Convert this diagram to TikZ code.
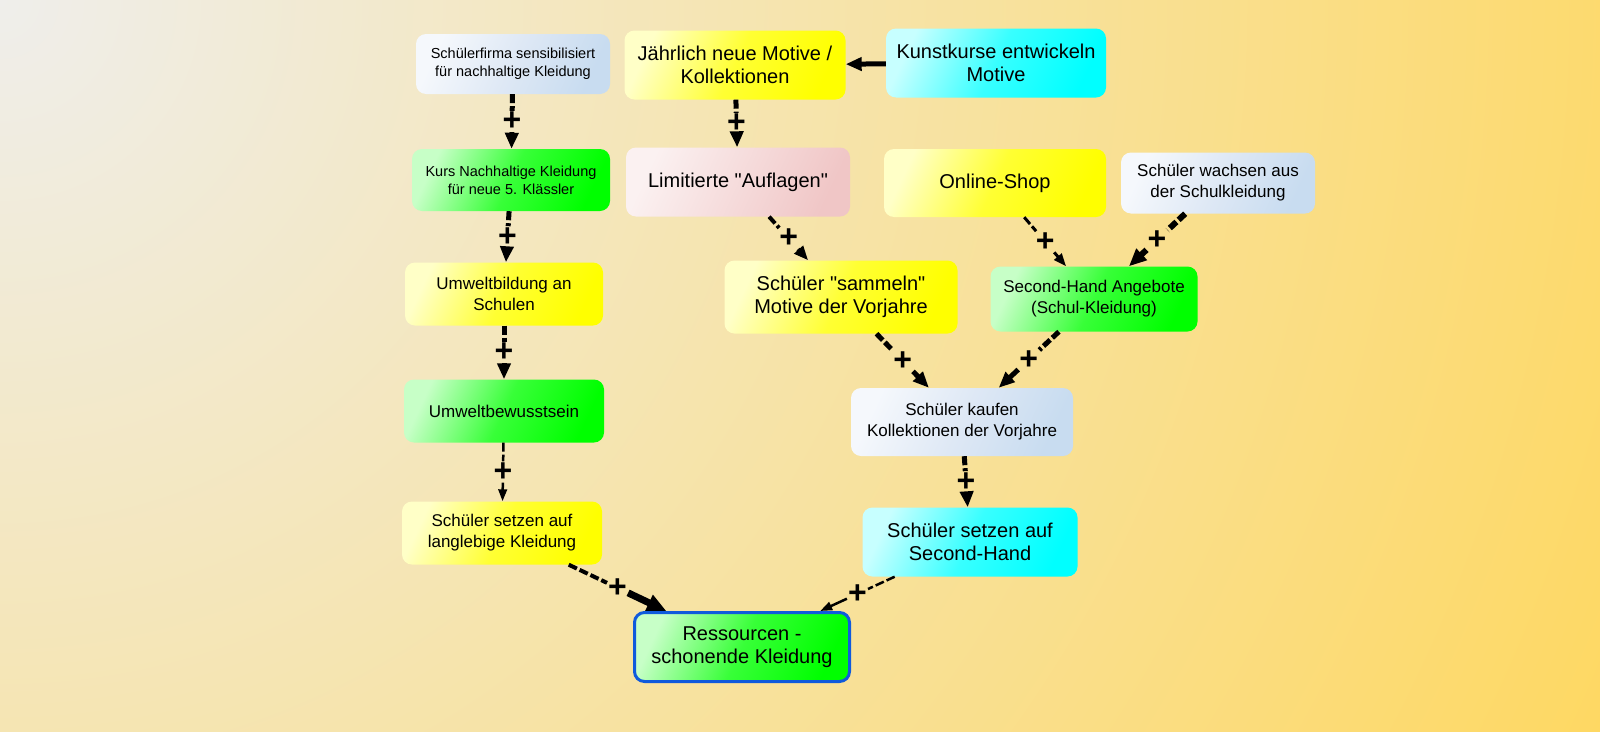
\documentclass[tikz,border=0pt]{standalone}
\usepackage{fontspec}
\setmainfont{Liberation Sans}[Ligatures=TeXOff]
\usepackage{tikz}
\usetikzlibrary{arrows.meta,positioning}

\definecolor{bgTop}{RGB}{239,238,235}
\definecolor{bgBottom}{RGB}{254,216,98}
\definecolor{blueL}{RGB}{245,248,252}
\definecolor{blueM}{RGB}{222,232,245}
\definecolor{blueR}{RGB}{200,220,240}
\definecolor{pinkL}{RGB}{251,241,241}
\definecolor{pinkR}{RGB}{240,198,198}
\definecolor{frameBlue}{RGB}{16,90,220}

\begin{document}
\begin{tikzpicture}[x=1pt,y=-1pt,
    box/.style={rounded corners=10pt, align=center, inner sep=2pt},
    sz/.style 2 args={minimum width=#1pt, minimum height=#2pt},
    small/.style={font=\fontsize{14.5}{18}\selectfont},
    mid/.style={font=\fontsize{17}{21}\selectfont},
    big/.style={font=\fontsize{20}{23.5}\selectfont},
    yellowbox/.style={box, left color=yellow!22!white, right color=yellow, middle color=yellow!80!white, shading angle=65},
    greenbox/.style={box, left color=green!22!white, right color=green, middle color=green!78!white, shading angle=65},
    cyanbox/.style={box, left color=cyan!22!white, right color=cyan, middle color=cyan!78!white, shading angle=65},
    bluebox/.style={box, left color=blueL, right color=blueR, middle color=blueM, shading angle=65},
    pinkbox/.style={box, left color=pinkL, right color=pinkR, shading angle=65},
    plus/.style={font=\fontsize{32}{32}\selectfont\bfseries, inner sep=1pt},
    src/.style={line width=#1, dash pattern=on 9pt off 3pt},
    tip/.style={line width=#1, -{Triangle[length=8pt 1.6, width=4pt 1.8]}}]

  \useasboundingbox (0,0) rectangle (1600,731);
  % background
  \begin{scope}
    \clip (0,0) rectangle (1600,731);
    \fill[bgBottom] (0,0) rectangle (1600,731);
    \shade[inner color=bgTop, outer color=bgBottom] (0,0) circle (1770pt);
  \end{scope}

  % boxes
  \node[bluebox, sz={194}{60}, small] (firma) at (513,64) {Schülerfirma sensibilisiert\\für nachhaltige Kleidung};
  \node[yellowbox, sz={221}{69}, big] (motive) at (735,65) {Jährlich neue Motive /\\Kollektionen};
  \node[cyanbox, sz={220}{69}, big] (kunst) at (996,63) {Kunstkurse entwickeln\\Motive};
  \node[greenbox, sz={198}{62}, small] (kurs) at (511,180) {Kurs Nachhaltige Kleidung\\für neue 5. Klässler};
  \node[pinkbox, sz={224}{69}, big] (auflagen) at (738,182) {Limitierte "Auflagen"};
  \node[yellowbox, sz={222}{68}, big] (shop) at (995,183) {Online-Shop};
  \node[bluebox, sz={194}{61}, mid] (wachsen) at (1218,183) {Schüler wachsen aus\\der Schulkleidung};
  \node[yellowbox, sz={198}{63}, mid] (bildung) at (504,294) {Umweltbildung an\\Schulen};
  \node[yellowbox, sz={233}{73}, big] (sammeln) at (841,297) {Schüler "sammeln"\\Motive der Vorjahre};
  \node[greenbox, sz={207}{65}, mid] (angebote) at (1094,299) {Second-Hand Angebote\\(Schul-Kleidung)};
  \node[greenbox, sz={200}{63}, mid] (bewusst) at (504,411) {Umweltbewusstsein};
  \node[bluebox, sz={222}{68}, mid] (kaufen) at (962,422) {Schüler kaufen\\Kollektionen der Vorjahre};
  \node[yellowbox, sz={200}{63}, mid] (langlebig) at (502,533) {Schüler setzen auf\\langlebige Kleidung};
  \node[cyanbox, sz={215}{69}, big] (second) at (970,542) {Schüler setzen auf\\Second-Hand};
  \node[greenbox, sz={215}{69}, big, draw=frameBlue, line width=3pt] (ressourcen) at (742,647) {Ressourcen -\\schonende Kleidung};

  % links
  \draw[tip=5] (kunst) -- (motive);

  \path (firma) -- node[plus] (p1) {+} (kurs);
  \draw[src=5] (firma) -- (p1);
  \draw[tip=5] (p1) -- (kurs);

  \path (motive) -- node[plus] (p2) {+} (auflagen);
  \draw[src=5] (motive) -- (p2);
  \draw[tip=5] (p2) -- (auflagen);

  \path (kurs) -- node[plus] (p3) {+} (bildung);
  \draw[src=5] (kurs) -- (p3);
  \draw[tip=5] (p3) -- (bildung);

  \path (bildung) -- node[plus] (p4) {+} (bewusst);
  \draw[src=5] (bildung) -- (p4);
  \draw[tip=5] (p4) -- (bewusst);

  \path (bewusst) -- node[plus] (p5) {+} (langlebig);
  \draw[src=2.5] (bewusst) -- (p5);
  \draw[tip=2.5] (p5) -- (langlebig);

  \path (langlebig) -- node[plus] (p6) {+} (ressourcen);
  \draw[src=4] (langlebig) -- (p6);
  \draw[tip=7] (p6) -- (ressourcen);

  \path (auflagen) -- node[plus] (p7) {+} (sammeln);
  \draw[src=4] (auflagen) -- (p7);
  \draw[tip=4] (p7) -- (sammeln);

  \path (shop) -- node[plus] (p8) {+} (angebote);
  \draw[src=3] (shop) -- (p8);
  \draw[tip=3] (p8) -- (angebote);

  \path (wachsen) -- node[plus] (p9) {+} (angebote);
  \draw[src=6] (wachsen) -- (p9);
  \draw[tip=6] (p9) -- (angebote);

  \path (sammeln) -- node[plus] (p10) {+} (kaufen);
  \draw[src=5] (sammeln) -- (p10);
  \draw[tip=5] (p10) -- (kaufen);

  \path (angebote) -- node[plus] (p11) {+} (kaufen);
  \draw[src=5] (angebote) -- (p11);
  \draw[tip=5] (p11) -- (kaufen);

  \path (kaufen) -- node[plus] (p12) {+} (second);
  \draw[src=5] (kaufen) -- (p12);
  \draw[tip=5] (p12) -- (second);

  \path (second) -- node[plus] (p13) {+} (ressourcen);
  \draw[src=2.5] (second) -- (p13);
  \draw[tip=2.5] (p13) -- (ressourcen);
\end{tikzpicture}
\end{document}
